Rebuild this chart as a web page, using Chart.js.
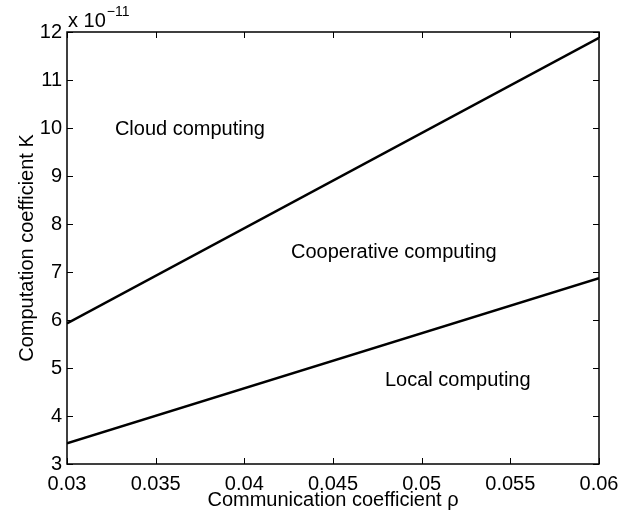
<!DOCTYPE html>
<html>
<head>
<meta charset="utf-8">
<script src="https://cdn.jsdelivr.net/npm/chart.js@4.4.0/dist/chart.umd.min.js"></script>
<style>
  html, body { margin: 0; padding: 0; background: #fff; }
  #wrap { width: 641px; height: 513px; }
</style>
</head>
<body>
<div id="wrap"><canvas id="chart" width="641" height="513"></canvas></div>
<script>
// Données (K en unités de 1e-11)
const rhoValues = [0.03, 0.06];
const cloudBoundary = [5.93, 11.88];
const localBoundary = [3.43, 6.87];
const xTicks = [0.03, 0.035, 0.04, 0.045, 0.05, 0.055, 0.06];
const yTicks = [3, 4, 5, 6, 7, 8, 9, 10, 11, 12];
const regionLabels = ['Cloud computing', 'Cooperative computing', 'Local computing'];
const regionX = [0.0327, 0.04263, 0.04793];
const regionY = [9.96, 7.40, 4.75];

const FONT = 'Liberation Sans, Arial, Helvetica, sans-serif';

const toPoints = (xs, ys) => xs.map((x, i) => ({ x: x, y: ys[i] }));

// Cadre, graduations intérieures, textes des régions et exposant
const matlabBox = {
    id: 'matlabBox',
    afterDraw(chart) {
        const ctx = chart.ctx;
        const a = chart.chartArea;
        const xs = chart.scales.x;
        const ys = chart.scales.y;
        ctx.save();
        ctx.strokeStyle = '#000';
        ctx.lineWidth = 1.5;
        ctx.strokeRect(a.left, a.top, a.right - a.left, a.bottom - a.top);
        ctx.lineWidth = 1;
        const t = 6;
        ctx.beginPath();
        xTicks.forEach(v => {
            const px = Math.round(xs.getPixelForValue(v)) + 0.5;
            ctx.moveTo(px, a.bottom); ctx.lineTo(px, a.bottom - t);
            ctx.moveTo(px, a.top); ctx.lineTo(px, a.top + t);
        });
        yTicks.forEach(v => {
            const py = Math.round(ys.getPixelForValue(v)) + 0.5;
            ctx.moveTo(a.left, py); ctx.lineTo(a.left + t, py);
            ctx.moveTo(a.right, py); ctx.lineTo(a.right - t, py);
        });
        ctx.stroke();

        ctx.fillStyle = '#000';
        ctx.font = '20px ' + FONT;
        ctx.textAlign = 'left';
        ctx.textBaseline = 'middle';
        regionLabels.forEach((txt, i) => {
            ctx.fillText(txt, xs.getPixelForValue(regionX[i]), ys.getPixelForValue(regionY[i]));
        });

        // exposant "x 10^-11"
        ctx.textBaseline = 'alphabetic';
        ctx.font = '20px ' + FONT;
        ctx.fillText('x 10', a.left + 1, a.top - 5);
        const w = ctx.measureText('x 10').width;
        ctx.font = '14px ' + FONT;
        ctx.fillText('\u221211', a.left + 1 + w + 1, a.top - 16);
        ctx.restore();
    }
};

new Chart(document.getElementById('chart'), {
    type: 'scatter',
    data: {
        datasets: [
            {
                label: 'Cloud / Cooperative',
                data: toPoints(rhoValues, cloudBoundary),
                showLine: true,
                borderColor: '#000',
                borderWidth: 2.5,
                pointRadius: 0,
                fill: false
            },
            {
                label: 'Cooperative / Local',
                data: toPoints(rhoValues, localBoundary),
                showLine: true,
                borderColor: '#000',
                borderWidth: 2.5,
                pointRadius: 0,
                fill: false
            }
        ]
    },
    options: {
        responsive: false,
        animation: false,
        layout: { padding: { top: 32, right: 42, left: 0, bottom: 0 } },
        plugins: {
            legend: { display: false },
            tooltip: { enabled: false }
        },
        scales: {
            x: {
                type: 'linear',
                min: 0.03,
                max: 0.06,
                grid: { display: false },
                border: { display: false },
                afterBuildTicks: scale => { scale.ticks = xTicks.map(v => ({ value: v })); },
                afterFit: scale => { scale.height = 49; },
                ticks: {
                    color: '#000',
                    font: { family: FONT, size: 20 },
                    padding: 0,
                    maxRotation: 0,
                    autoSkip: false,
                    callback: v => String(+v.toFixed(3))
                },
                title: {
                    display: true,
                    text: 'Communication coefficient \u03c1',
                    color: '#000',
                    font: { family: FONT, size: 20 },
                    padding: { top: 0, bottom: 1 }
                }
            },
            y: {
                type: 'linear',
                min: 3,
                max: 12,
                grid: { display: false },
                border: { display: false },
                afterBuildTicks: scale => { scale.ticks = yTicks.map(v => ({ value: v })); },
                afterFit: scale => { scale.width = 67; },
                ticks: {
                    color: '#000',
                    font: { family: FONT, size: 20 },
                    padding: -3,
                    autoSkip: false
                },
                title: {
                    display: true,
                    text: 'Computation coefficient K',
                    color: '#000',
                    font: { family: FONT, size: 20 },
                    padding: { top: 15, bottom: 0 }
                }
            }
        }
    },
    plugins: [matlabBox]
});
</script>
</body>
</html>
